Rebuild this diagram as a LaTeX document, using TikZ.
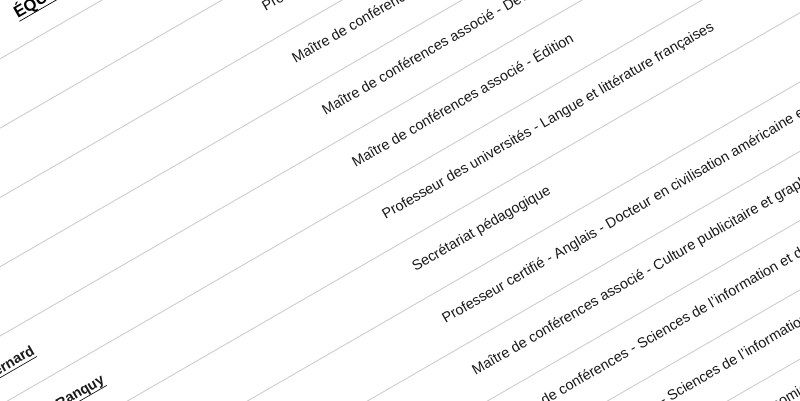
\documentclass[tikz,border=0pt]{standalone}
\usepackage{fontspec}
\setmainfont{Liberation Sans}
\definecolor{linegray}{RGB}{205,205,205}
\definecolor{textcol}{RGB}{25,25,25}
\newlength\ulw
\newcommand\myul[1]{\settowidth\ulw{#1}\rlap{#1}\raisebox{-3.5pt}{\rule{\ulw}{0.7pt}}}
\begin{document}
\begin{tikzpicture}[x=1pt,y=1pt,
  sepline/.style={draw=linegray, line width=0.9pt},
  rolecell/.style={anchor=base west, inner sep=0pt, font=\fontsize{14.4}{16}\selectfont, text=textcol, transform shape},
  namecell/.style={anchor=base east, inner sep=0pt, font=\fontsize{14.4}{16}\selectfont\bfseries, text=textcol, transform shape},
  headcell/.style={anchor=base west, inner sep=0pt, font=\fontsize{16.5}{18}\selectfont\bfseries, text=black, transform shape}]
\useasboundingbox (0,0) rectangle (800,400);
\fill[white] (0,0) rectangle (800,400);
\clip (0,0) rectangle (800,400);
\begin{scope}[shift={(0,400)}, rotate=30]
  \foreach \m in {-2,...,9}
    \draw[sepline] (-350,{-(171+60*\m)}) -- (900,{-(171+60*\m)});
  \node[headcell] (hd) at (6,-25) {\myul{ÉQUIPE PÉDAGOGIQUE}};
  \node[rolecell] (t0) at (224,-143) {Professeur des universités};
  \node[rolecell] (t1) at (224,-203) {Maître de conférences};
  \node[rolecell] (t2) at (224,-263) {Maître de conférences associé - Développement};
  \node[rolecell] (t3) at (224,-323) {Maître de conférences associé - Édition};
  \node[rolecell] (t4) at (224,-383) {Professeur des universités - Langue et littérature françaises};
  \node[rolecell] (t5) at (224,-443) {Secrétariat pédagogique};
  \node[rolecell] (t6) at (224,-503) {Professeur certifié - Anglais - Docteur en civilisation américaine et britannique};
  \node[rolecell] (t7) at (224,-563) {Maître de conférences associé - Culture publicitaire et graphique};
  \node[rolecell] (t8) at (224,-623) {Maître de conférences - Sciences de l'information et de la communication};
  \node[rolecell] (t9) at (224,-683) {Maître de conférences - Sciences de l'information et de la communication};
  \node[rolecell] (t10) at (224,-743) {Maître de conférences - Sciences économiques};
  \node[namecell] (n3) at (-146,-324) {\myul{Bernard}};
  \node[namecell] (n4) at (-100,-384) {\myul{Ranquy}};
\end{scope}
\end{tikzpicture}
\end{document}
